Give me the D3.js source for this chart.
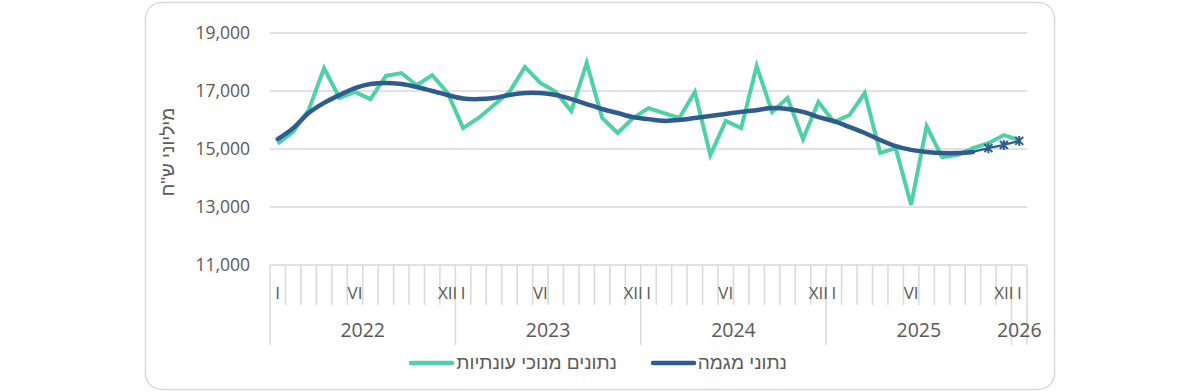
<!DOCTYPE html>
<html><head><meta charset="utf-8">
<script src="https://cdn.jsdelivr.net/npm/d3@7/dist/d3.min.js"></script>
<style>
html,body{margin:0;padding:0;background:#fff;}
svg{display:block;font-family:"Open Sans","Liberation Sans","DejaVu Sans",sans-serif;}
.heb{font-family:"Liberation Sans","DejaVu Sans",sans-serif;}
</style></head>
<body><svg id="c" width="1200" height="392"></svg>
<script>
// ---- data ----
const years = ["2022","2023","2024","2025","2026"];
const monthsPerYear = [12,12,12,12,1];
const monthLabels = ["I","","","","","VI","","","","","","XII"];
const yTicks = [11000,13000,15000,17000,19000];
const seasonalAdj = [15180,15590,16340,17790,16760,16970,16720,17520,17620,17200,17550,16930,
  15720,16070,16520,16970,17830,17280,16970,16310,17970,16070,15550,16070,
  16410,16240,16070,16970,14790,15970,15720,17860,16280,16760,15340,16620,
  15930,16170,16930,14860,15030,13070,15790,14720,14790,15030,15200,15480,
  15310];
const trend = [15340,15720,16240,16590,16860,17100,17240,17280,17240,17140,17000,16860,
  16740,16720,16760,16860,16930,16930,16860,16720,16550,16380,16240,16100,
  16030,15970,16000,16070,16140,16210,16280,16340,16410,16380,16280,16100,
  15960,15760,15550,15310,15100,14970,14900,14860,14860,14900,null,null,null];
const forecast = [null,null,null,null,null,null,null,null,null,null,null,null,
  null,null,null,null,null,null,null,null,null,null,null,null,
  null,null,null,null,null,null,null,null,null,null,null,null,
  null,null,null,null,null,null,null,null,null,14900,15030,15140,15280];
const forecastMarked = [46,47,48];
const legendLabels = ["נתונים מנוכי עונתיות","נתוני מגמה"];
const yTitle = 'מיליוני ש"ח';

// ---- layout ----
const svg = d3.select("#c");
const green = "#4fd1a6", blue = "#2f5b8f", grid = "#d9d9d9", txt = "#595959";
const cats = [];
years.forEach((y,yi)=>{for(let m=0;m<monthsPerYear[yi];m++) cats.push({y,yi,m});});
const x = d3.scaleBand().domain(d3.range(cats.length)).range([270,1027]).paddingInner(0).paddingOuter(0);
const y = d3.scaleLinear().domain([11000,19000]).range([265,33]);
const bw = x.bandwidth();
const cx = i => x(i)+bw/2;

// border
svg.append("rect").attr("x",145.5).attr("y",2.5).attr("width",909).attr("height",387)
  .attr("rx",16).attr("fill","#fff").attr("stroke","#d9d9d9").attr("stroke-width",1.5);

// gridlines
svg.append("g").selectAll("line").data(yTicks.filter(t=>t>11000)).join("line")
  .attr("x1",270).attr("x2",1027).attr("y1",d=>y(d)).attr("y2",d=>y(d))
  .attr("stroke",grid).attr("stroke-width",1.5);
// y labels
svg.append("g").selectAll("text").data(yTicks).join("text")
  .attr("x",250).attr("y",d=>y(d)+6).attr("text-anchor","end")
  .attr("font-size",17.5).attr("fill",txt).text(d=>d3.format(",")(d));
// y title
svg.append("text").attr("class","heb").attr("transform","translate(174,152) rotate(-90)")
  .attr("text-anchor","middle").attr("font-size",19).attr("fill",txt).text(yTitle);

// x axis
const ax = svg.append("g");
ax.append("line").attr("x1",270).attr("x2",1027).attr("y1",265).attr("y2",265).attr("stroke",grid).attr("stroke-width",1.5);
const bounds = d3.range(cats.length+1);
const yearStart = new Set();
let acc=0; monthsPerYear.forEach(n=>{yearStart.add(acc);acc+=n;}); yearStart.add(acc);
ax.selectAll("line.t").data(bounds).join("line").attr("class","t")
  .attr("x1",i=>i<cats.length?x(i):x.range()[1]).attr("x2",i=>i<cats.length?x(i):x.range()[1])
  .attr("y1",265).attr("y2",i=>yearStart.has(i)?345:305)
  .attr("stroke",grid).attr("stroke-width",1.5);
ax.selectAll("text.m").data(cats).join("text").attr("class","m")
  .attr("x",(d,i)=>cx(i)).attr("y",299).attr("text-anchor","middle")
  .attr("font-size",17).attr("fill",txt).text(d=>monthLabels[d.m]);
let s=0;
const yearPos = monthsPerYear.map(n=>{const a=s; s+=n; return (x(a)+ (s<cats.length?x(s):x.range()[1]))/2;});
ax.selectAll("text.y").data(years).join("text").attr("class","y")
  .attr("x",(d,i)=>yearPos[i]).attr("y",337).attr("text-anchor","middle")
  .attr("font-size",19.5).attr("fill",txt).text(d=>d);

// lines
const lineGen = d3.line().defined(d=>d!=null).x((d,i)=>cx(i)).y(d=>y(d));
svg.append("path").datum(seasonalAdj).attr("d",lineGen).attr("fill","none")
  .attr("stroke",green).attr("stroke-width",4).attr("stroke-linejoin","miter");
const smooth = d3.line().defined(d=>d!=null).x((d,i)=>cx(i)).y(d=>y(d)).curve(d3.curveCatmullRom.alpha(0.5));
svg.append("path").datum(trend).attr("d",smooth).attr("fill","none")
  .attr("stroke",blue).attr("stroke-width",4.5).attr("stroke-linecap","round");
svg.append("path").datum(forecast).attr("d",smooth).attr("fill","none")
  .attr("stroke",blue).attr("stroke-width",2.2);
// star markers
const r=5;
svg.append("g").selectAll("path").data(forecastMarked).join("path")
  .attr("d",i=>{const px=cx(i),py=y(forecast[i]);const k=r*0.8;
    return `M${px},${py-r}L${px},${py+r}M${px-k},${py-k}L${px+k},${py+k}M${px-k},${py+k}L${px+k},${py-k}`;})
  .attr("stroke",blue).attr("stroke-width",2).attr("fill","none");

// legend
const lg = svg.append("g");
const items = [{label:legendLabels[0],color:green,x1:411,x2:452,tx:617},{label:legendLabels[1],color:blue,x1:653,x2:694,tx:787}];
items.forEach(it=>{
  lg.append("line").attr("x1",it.x1).attr("x2",it.x2).attr("y1",363).attr("y2",363)
    .attr("stroke",it.color).attr("stroke-width",4.5).attr("stroke-linecap","round");
  lg.append("text").attr("class","heb").attr("x",it.tx).attr("y",369).attr("text-anchor","end")
    .attr("font-size",19).attr("fill",txt).text(it.label);
});
</script></body></html>
